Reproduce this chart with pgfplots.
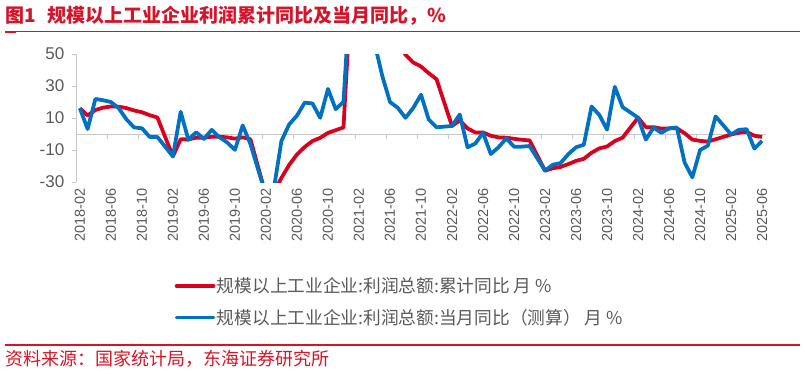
\documentclass[border=0pt]{standalone}
\usepackage{fontspec}
\setmainfont{Liberation Sans}
\newfontfamily\cjk{Noto Sans CJK SC}
\usepackage{pgfplots}
\pgfplotsset{compat=1.18}
\usepackage{pgfplotstable}
\definecolor{linered}{HTML}{D7001E}
\definecolor{lineblue}{HTML}{0070C0}
\definecolor{txtred}{HTML}{D2152B}
\definecolor{axisgray}{HTML}{C8C8C8}
\definecolor{labgray}{HTML}{595959}

\pgfplotstableread{
i cum mon
0 16.1 16.1
1 11.6 3.1
2 15.0 21.9
3 16.5 21.1
4 17.2 20.0
5 17.1 16.2
6 16.2 9.2
7 14.7 4.1
8 13.6 3.6
9 11.8 -1.8
10 10.3 -1.9
12 -14.0 -14.0
13 -3.3 13.9
14 -3.4 -3.7
15 -2.3 1.1
16 -2.4 -3.1
17 -1.7 2.6
18 -1.7 -2.0
19 -2.1 -5.3
20 -2.9 -9.9
21 -2.1 5.4
22 -3.3 -6.3
24 -38.3 -38.3
25 -36.7 -34.9
26 -27.4 -4.3
27 -19.3 6.0
28 -12.8 11.5
29 -8.1 19.6
30 -4.4 19.1
31 -2.4 10.1
32 0.7 28.2
33 2.4 15.5
34 4.1 20.1
36 178.9 178.9
37 137.3 92.3
38 106.0 57.0
39 83.4 36.4
40 66.9 20.0
41 57.3 16.4
42 49.5 10.1
43 44.7 16.3
44 42.2 24.6
45 38.0 9.0
46 34.3 4.2
48 5.0 5.0
49 8.5 12.2
50 3.5 -8.3
51 1.0 -6.0
52 1.0 0.8
53 -1.1 -12.5
54 -2.1 -8.3
55 -2.3 -2.7
56 -3.0 -7.9
57 -3.6 -7.9
58 -4.0 -7.5
60 -22.9 -22.9
61 -21.4 -19.2
62 -20.6 -18.2
63 -18.8 -12.6
64 -16.8 -8.3
65 -15.5 -6.7
66 -11.7 17.2
67 -9.0 11.9
68 -7.8 2.7
69 -4.4 29.5
70 -2.3 16.8
72 10.2 10.2
73 4.3 -3.5
74 4.3 4.0
75 3.4 0.7
76 3.5 3.6
77 3.6 4.1
78 0.5 -17.8
79 -3.5 -27.1
80 -4.3 -10.0
81 -4.7 -7.3
82 -3.3 11.0
84 -0.3 -0.3
85 0.8 2.6
86 1.4 3.0
87 -1.1 -9.1
88 -1.8 -4.3
}\datatable

\begin{document}
\begin{tikzpicture}
\useasboundingbox (0pt,0pt) rectangle (805pt,373pt);
\node[anchor=base west, inner sep=0pt, text=txtred, font=\fontsize{19}{22}\selectfont\cjk\bfseries] at (5pt,350pt) {图1\hspace{0.6em}规模以上工业企业利润累计同比及当月同比，\%};
\draw[txtred, line width=1pt] (5pt,341pt) -- (800pt,341pt);
\fill[txtred] (5pt,340pt) rectangle (16pt,342.3pt);

\begin{axis}[
  at={(76pt,191pt)}, anchor=south west,
  scale only axis, width=690pt, height=128pt,
  xmin=-0.5, xmax=88.5, ymin=-30, ymax=50,
  axis x line*=bottom, axis y line*=left,
  x axis line style={draw=none},
  y axis line style={draw=axisgray, line width=1pt, -},
  xtick={0,4,...,88},
  xticklabels={2018-02,2018-06,2018-10,2019-02,2019-06,2019-10,2020-02,2020-06,2020-10,2021-02,2021-06,2021-10,2022-02,2022-06,2022-10,2023-02,2023-06,2023-10,2024-02,2024-06,2024-10,2025-02,2025-06},
  x tick label style={rotate=90, anchor=east, inner sep=2pt, font=\fontsize{14.5}{16}\selectfont, text=labgray},
  major x tick style={draw=none},
  ytick={-30,-10,10,30,50},
  yticklabels={-30,-10,10,30,50},
  y tick label style={font=\fontsize{17}{19}\selectfont, text=labgray, inner sep=0pt, xshift=-7.5pt},
  tick align=outside, major tick length=4pt,
  y tick style={draw=axisgray, line width=1pt},
  legend style={at={(axis description cs:0.1428,-0.734)}, anchor=north west, draw=none, fill=none, inner sep=0pt, row sep=12pt, font=\fontsize{17.7}{20}\selectfont\cjk, text=labgray, nodes={inner sep=1.5pt}},
  legend cell align=left,
  legend image code/.code={\draw[#1, line width=3.75pt, line cap=round] (2pt,0pt) -- (39pt,0pt);},
]
\draw[axisgray, line width=1pt] (axis cs:-0.5,0) -- (axis cs:88.5,0);
\pgfplotsinvokeforeach{3.5,7.5,...,87.5}{\draw[axisgray, line width=1pt] (axis cs:#1,0) -- ([yshift=-5pt]axis cs:#1,0);}
\addplot[linered, line width=3.75pt, line join=round, mark=none] table[x=i,y=cum]{\datatable};
\addlegendentry{规模以上工业企业:利润总额:累计同比 月 \%}
\addplot[lineblue, line width=3.75pt, line join=round, mark=none] table[x=i,y=mon]{\datatable};
\addlegendentry{规模以上工业企业:利润总额:当月同比（测算） 月 \%}
\end{axis}

\draw[txtred, line width=1.3pt] (5pt,28pt) -- (800pt,28pt);
\node[anchor=base west, inner sep=0pt, text=txtred, font=\fontsize{18}{21}\selectfont\cjk] at (5pt,8pt) {资料来源：国家统计局，东海证券研究所};
\end{tikzpicture}
\end{document}
